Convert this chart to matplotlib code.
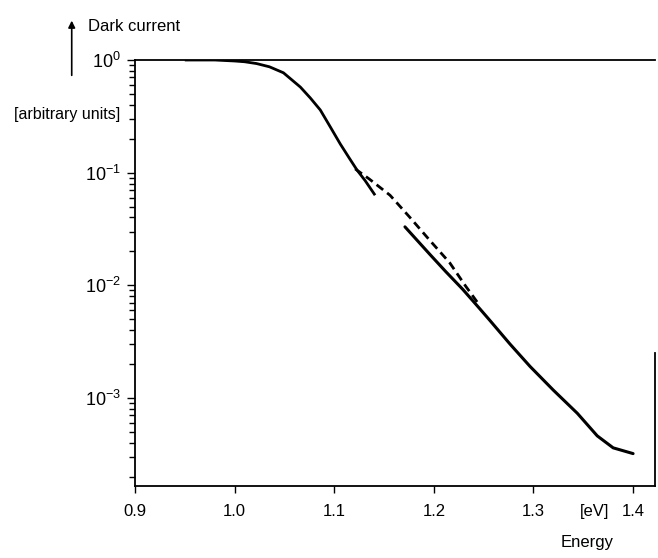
import matplotlib
matplotlib.use("Agg")
import matplotlib.pyplot as plt
from matplotlib.patches import FancyArrowPatch

plt.rcParams["font.family"] = ["Liberation Sans", "DejaVu Sans"]
plt.rcParams["mathtext.fontset"] = "custom"
plt.rcParams["mathtext.rm"] = "Liberation Sans"
plt.rcParams["mathtext.it"] = "Liberation Sans"
plt.rcParams["mathtext.default"] = "regular"

# main measured curve (solid, upper part)
e_main = [0.95, 0.98, 1.0, 1.01, 1.022, 1.035, 1.049, 1.066, 1.076, 1.086, 1.096,
          1.106, 1.115, 1.123, 1.131, 1.141]
i_main = [1.0, 1.0, 0.98, 0.965, 0.93, 0.87, 0.77, 0.575, 0.46, 0.36, 0.255,
          0.18, 0.135, 0.105, 0.085, 0.063]

# dashed branch
e_dash = [1.121, 1.135, 1.156, 1.176, 1.196, 1.216, 1.232, 1.245]
i_dash = [0.108, 0.088, 0.063, 0.040, 0.025, 0.0158, 0.0098, 0.0068]

# lower solid curve
e_low = [1.171, 1.196, 1.212, 1.229, 1.246, 1.256, 1.2765, 1.2966, 1.320, 1.344,
         1.364, 1.380, 1.400]
i_low = [0.033, 0.0188, 0.0132, 0.0092, 0.0062, 0.0049, 0.0030, 0.0019, 0.00117,
         7.3e-4, 4.6e-4, 3.6e-4, 3.2e-4]

xticks = [0.9, 1.0, 1.1, 1.2, 1.3, 1.4]
xlabels = ["0.9", "1.0", "1.1", "1.2", "1.3", "1.4"]

fig = plt.figure(figsize=(6.58, 5.58), dpi=100)
ax = fig.add_axes([135 / 658, 1 - 486 / 558, 520 / 658, 426 / 558])

ax.plot(e_main, i_main, color="black", lw=2.0, solid_capstyle="butt")
ax.plot(e_dash, i_dash, color="black", lw=2.0, linestyle=(0, (3, 1.8)))
ax.plot(e_low, i_low, color="black", lw=2.2, solid_capstyle="round")

ax.set_yscale("log")
ax.set_xlim(0.9, 1.422)
ax.set_ylim(1.65e-4, 1.0)
ax.set_yticks([1e0, 1e-1, 1e-2, 1e-3])
ax.set_xticks(xticks)
ax.set_xticklabels(xlabels)

ax.tick_params(axis="x", which="major", direction="out", length=5, width=1, pad=8, labelsize=12)
ax.tick_params(axis="y", which="major", direction="out", length=6, width=1, pad=4, labelsize=13)
ax.tick_params(axis="y", which="minor", direction="out", length=4, width=1)

for s in ax.spines.values():
    s.set_linewidth(1.3)
ax.spines["right"].set_bounds(1.65e-4, 2.5e-3)

ax.annotate("[eV]", xy=(1.361, 0), xycoords=("data", "axes fraction"),
            xytext=(0, -13), textcoords="offset points", ha="center", va="top", fontsize=12)
ax.annotate("Energy", xy=(1.354, 0.027), xycoords=("data", "figure fraction"),
            ha="center", va="center", fontsize=12)

fig.text(0.134, 0.952, "Dark current", ha="left", va="center", fontsize=12)
fig.text(0.183, 0.794, "[arbitrary units]", ha="right", va="center", fontsize=11.5)
fig.add_artist(FancyArrowPatch((0.109, 0.860), (0.109, 0.968),
               transform=fig.transFigure, arrowstyle="-|>", mutation_scale=10,
               color="black", lw=1.2))

fig.savefig("out.png", dpi=100)
